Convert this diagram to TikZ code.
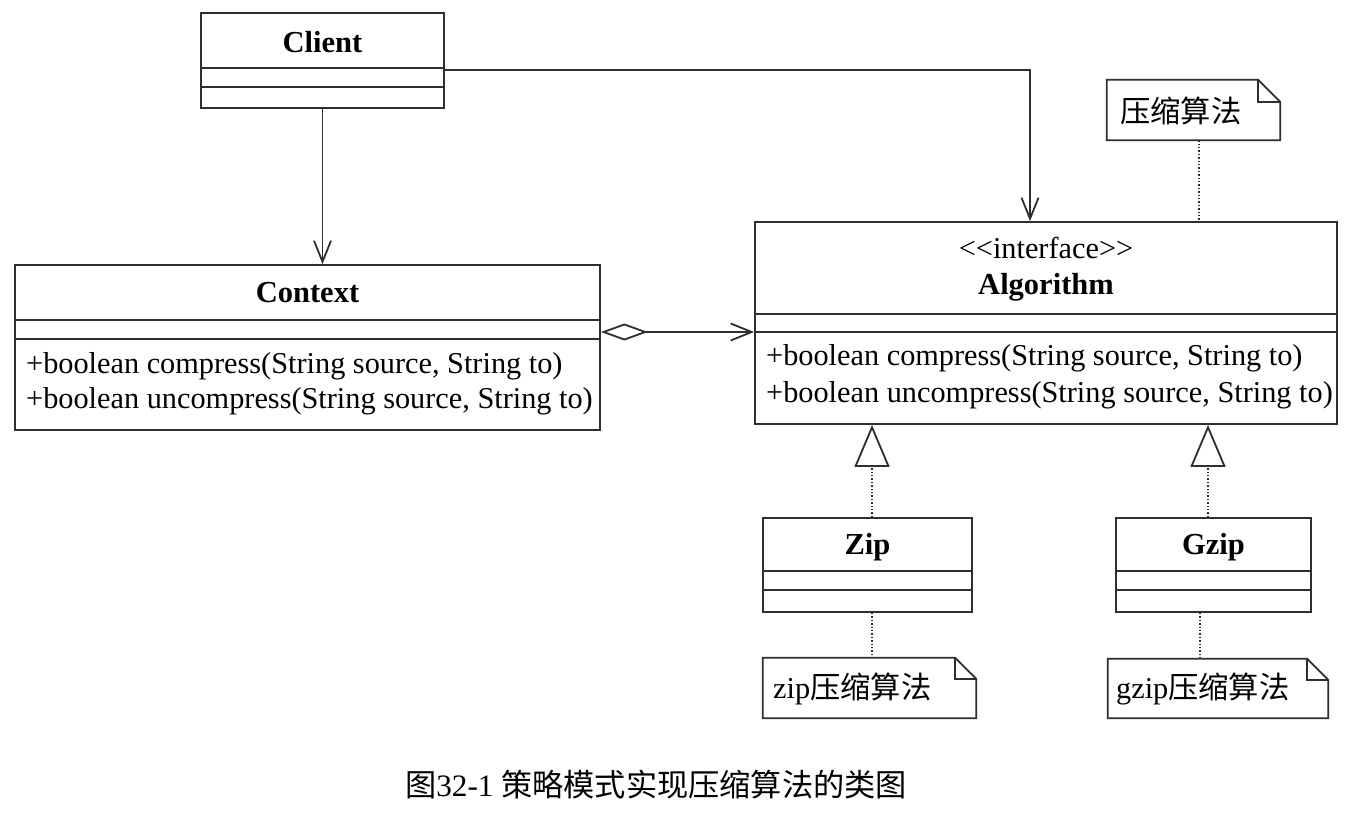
\documentclass[tikz,border=0pt]{standalone}
\usepackage{fontspec}
\setmainfont{Liberation Serif}
\newfontfamily\cjk{Noto Sans CJK SC}
\usetikzlibrary{arrows.meta}
\definecolor{ln}{HTML}{2E2E2E}
\tikzset{
  box/.style={draw=ln, line width=1.8pt, rectangle, inner sep=0pt},
  ttl/.style={font=\fontsize{30.5}{35}\selectfont\bfseries, inner sep=0pt, anchor=center},
  txt/.style={font=\fontsize{30.3}{35}\selectfont, inner sep=0pt},
  div/.style={draw=ln, line width=1.8pt},
  arr/.style={draw=ln, line width=1.6pt, -{Straight Barb[length=21pt,width=17pt,line width=1.8pt]}},
  real/.style={draw=ln, line width=1.3pt, dash pattern=on 1.4pt off 2pt, -{Triangle[open,length=42pt,width=35pt,line width=1.8pt,sep=0pt]}},
  dot/.style={draw=ln, line width=1.3pt, dash pattern=on 1.4pt off 2pt},
  notebox/.style={rectangle, inner sep=0pt},
  fold/.style={draw=ln, line width=1.8pt, line join=miter}
}
\newcommand{\notepath}[2]{%
  \draw[fold] (#1.north west) -- ([xshift=-#2]#1.north east) -- ([yshift=-#2]#1.north east) -- (#1.south east) -- (#1.south west) -- cycle;
  \draw[fold] ([xshift=-#2]#1.north east) -- ([xshift=-#2,yshift=-#2]#1.north east) -- ([yshift=-#2]#1.north east);}
\begin{document}
\begin{tikzpicture}[x=1pt,y=-1pt]
\useasboundingbox[fill=white] (0,0) rectangle (1352,812);

% Client
\node[box, minimum width=243pt, minimum height=95pt] (client) at (322.5,60.5) {};
\node[ttl] (clientT) at (322.5,42) {Client};
\draw[div] (client.west |- 0,68) -- (client.east |- 0,68);
\draw[div] (client.west |- 0,87) -- (client.east |- 0,87);

% Context
\node[box, minimum width=585pt, minimum height=165pt] (context) at (307.5,347.5) {};
\node[ttl] (contextT) at (307.5,293) {Context};
\draw[div] (context.west |- 0,320) -- (context.east |- 0,320);
\draw[div] (context.west |- 0,339) -- (context.east |- 0,339);
\node[txt, anchor=west] (cm1) at (26,366) {+boolean compress(String source, String to)};
\node[txt, anchor=west] (cm2) at (26,401) {+boolean uncompress(String source, String to)};

% Algorithm
\node[box, minimum width=582pt, minimum height=202pt] (algo) at (1046,323) {};
\node[txt] (algoS) at (1046,248) {<{}<interface>{}>};
\node[ttl] (algoT) at (1046,287) {Algorithm};
\draw[div] (algo.west |- 0,314) -- (algo.east |- 0,314);
\draw[div] (algo.west |- 0,332) -- (algo.east |- 0,332);
\node[txt, anchor=west] (am1) at (766,358) {+boolean compress(String source, String to)};
\node[txt, anchor=west] (am2) at (766,395) {+boolean uncompress(String source, String to)};

% Zip
\node[box, minimum width=209pt, minimum height=94pt] (zip) at (867.5,565) {};
\node[ttl] (zipT) at (867.5,547) {Zip};
\draw[div] (zip.west |- 0,571) -- (zip.east |- 0,571);
\draw[div] (zip.west |- 0,590) -- (zip.east |- 0,590);

% Gzip
\node[box, minimum width=195pt, minimum height=94pt] (gzip) at (1213.5,565) {};
\node[ttl] (gzipT) at (1213.5,547) {Gzip};
\draw[div] (gzip.west |- 0,571) -- (gzip.east |- 0,571);
\draw[div] (gzip.west |- 0,590) -- (gzip.east |- 0,590);

% Notes
\node[notebox, minimum width=173pt, minimum height=60pt] (n1) at (1193.5,110) {};
\notepath{n1}{22pt}
\node[txt, anchor=west] (n1T) at (1120,111) {\cjk 压缩算法};

\node[notebox, minimum width=213pt, minimum height=60pt] (n2) at (869.5,688) {};
\notepath{n2}{21pt}
\node[txt, anchor=west] (n2T) at (773,689) {zip\cjk 压缩算法};

\node[notebox, minimum width=220pt, minimum height=59pt] (n3) at (1218,688.5) {};
\notepath{n3}{21pt}
\node[txt, anchor=west] (n3T) at (1116,689) {gzip\cjk 压缩算法};

% Caption
\node[font=\fontsize{31.2}{38}\selectfont, inner sep=0pt] (cap) at (656,785) {{\cjk 图}32-1 {\cjk 策略模式实现压缩算法的类图}};

% Connectors
\draw[arr] (client.south) -- (client.south |- context.north);
\draw[arr] ([yshift=-9.5pt]client.east) -| ([xshift=-16pt]algo.north);
\draw[draw=ln, line width=1.6pt, {Diamond[open,length=47pt,width=17pt,line width=1.8pt]}-{Straight Barb[length=21pt,width=17pt,line width=1.8pt]}]
  ([yshift=15.5pt]context.east) -- ([yshift=15.5pt]context.east -| algo.west);
\draw[real] ([xshift=4.5pt]zip.north) -- ([xshift=4.5pt]zip.north |- algo.south);
\draw[real] ([xshift=-5.5pt]gzip.north) -- ([xshift=-5.5pt]gzip.north |- algo.south);
\draw[dot] ([xshift=5.5pt]n1.south) -- ([xshift=5.5pt]n1.south |- algo.north);
\draw[dot] ([xshift=4.5pt]zip.south) -- ([xshift=4.5pt]zip.south |- n2.north);
\draw[dot] ([xshift=-13.5pt]gzip.south) -- ([xshift=-13.5pt]gzip.south |- n3.north);
\end{tikzpicture}
\end{document}
